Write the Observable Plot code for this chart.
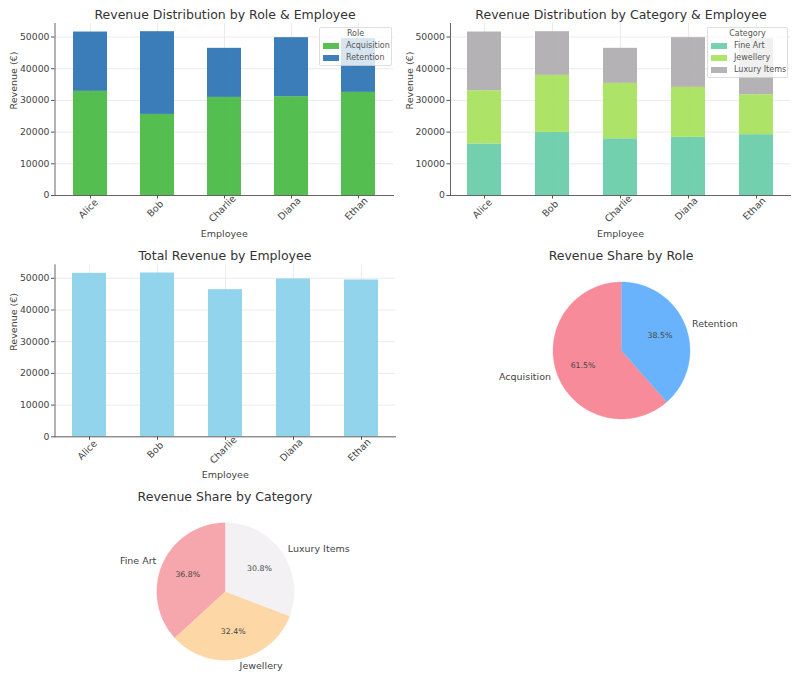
<!DOCTYPE html>
<html><head><meta charset="utf-8">
<script src="https://cdn.jsdelivr.net/npm/d3@7"></script>
<script src="https://cdn.jsdelivr.net/npm/@observablehq/plot@0.6"></script>
<style>
body{margin:0;background:#fff;font-family:"DejaVu Sans",sans-serif;}
#root{position:relative;width:800px;height:686px;overflow:hidden;background:#fff;}
.panel{position:absolute;}
.panel svg{overflow:visible;max-width:none !important;display:block;}
.title{position:absolute;font-size:12.5px;line-height:15px;color:#333;white-space:nowrap;transform:translateX(-50%);}
.legend{position:absolute;box-sizing:border-box;background:rgba(255,255,255,0.8);border:1px solid rgba(0,0,0,0.13);border-radius:2px;font-size:8px;line-height:12px;color:#555;padding:0 3px 1px 3px;}
.legend .lt{text-align:center;}
.legend .row{display:flex;align-items:center;white-space:nowrap;}
.legend .sw{width:16px;height:5.5px;margin-right:7px;flex:none;}
</style></head><body><div id="root"></div>
<script>
// ---------- data ----------
const employees = ["Alice", "Bob", "Charlie", "Diana", "Ethan"];
const roles = ["Acquisition", "Retention"];
const acquisition = [32850, 25580, 30950, 31170, 32530];
const retention = [18720, 26100, 15480, 18620, 16945];
const categories = ["Fine Art", "Jewellery", "Luxury Items"];
const fineArt = [16250, 19900, 17900, 18350, 19200];
const jewellery = [16800, 17990, 17470, 15760, 12590];
const luxuryItems = [18520, 13790, 11060, 15680, 17685];
const yTicks = [0, 10000, 20000, 30000, 40000, 50000];

const roleColors = ["#45ba41", "#2a72b2"];
const categoryColors = ["#66cca8", "#a6e25a", "#aeabae"];
const totalColor = "#8ad0eb";
const rolePieColors = ["#f78b99", "#69b3fc"];
const categoryPieColors = ["#f5a7ad", "#fdd7a5", "#f3f1f4"];

// ---------- derived ----------
const totals = employees.map((_, i) => acquisition[i] + retention[i]);
const yMax = d3.max(totals) * 1.05;
function stackRows(names, seriesValues) {
  const rows = [];
  employees.forEach((e, i) => names.forEach((s, j) => rows.push({employee: e, key: s, value: seriesValues[j][i]})));
  return rows;
}
const roleRows = stackRows(roles, [acquisition, retention]);
const catRows = stackRows(categories, [fineArt, jewellery, luxuryItems]);
const totalRows = employees.map((e, i) => ({employee: e, key: "Total", value: totals[i]}));

const root = document.getElementById("root");
const FONT = '"DejaVu Sans", sans-serif';

function place(node, left, top, w, h) {
  const d = document.createElement("div");
  d.className = "panel"; d.style.left = left + "px"; d.style.top = top + "px";
  d.style.width = w + "px"; d.style.height = h + "px";
  d.appendChild(node); root.appendChild(d);
}
function title(text, cx, cy) {
  const d = document.createElement("div");
  d.className = "title"; d.textContent = text;
  d.style.left = cx + "px"; d.style.top = (cy - 7.5) + "px";
  root.appendChild(d);
}
function legend(t, names, colors, left, top, width) {
  const d = document.createElement("div");
  d.className = "legend"; d.style.left = left + "px"; d.style.top = top + "px"; d.style.width = width + "px";
  const h = document.createElement("div"); h.className = "lt"; h.textContent = t; d.appendChild(h);
  names.forEach((n, i) => {
    const r = document.createElement("div"); r.className = "row";
    const sw = document.createElement("span"); sw.className = "sw"; sw.style.background = colors[i]; sw.style.opacity = 0.9;
    const tx = document.createElement("span"); tx.textContent = n;
    r.appendChild(sw); r.appendChild(tx); d.appendChild(r);
  });
  root.appendChild(d);
}

function barChart({rows, series, colors, marginLeft, marginRight, marginTop, marginBottom}) {
  return Plot.plot({
    width: 400, height: 245, marginTop, marginBottom, marginLeft, marginRight,
    style: {fontFamily: FONT, background: "transparent", overflow: "visible"},
    x: {domain: employees, paddingInner: 0.5, paddingOuter: 0.25, axis: null},
    y: {domain: [0, yMax], axis: null},
    color: {domain: series, range: colors},
    marks: [
      Plot.gridY(yTicks, {stroke: "#e6e6e6", strokeOpacity: 1, strokeWidth: 0.8}),
      Plot.gridX(employees, {stroke: "#e6e6e6", strokeOpacity: 1, strokeWidth: 0.8}),
      Plot.barY(rows, {x: "employee", y: "value", fill: "key", fillOpacity: 0.92}),
      Plot.frame({anchor: "left", stroke: "#555", strokeWidth: 0.9}),
      Plot.frame({anchor: "bottom", stroke: "#555", strokeWidth: 0.9}),
      Plot.axisY(yTicks, {tickSize: 3.5, tickPadding: 2, fontSize: 9.3, color: "#444", stroke: "#555", tickFormat: d3.format("d"), label: null}),
      Plot.axisX(employees, {tickSize: 3.5, tickFormat: () => "", label: null, stroke: "#555"}),
      Plot.text(employees, {x: d => d, frameAnchor: "bottom", dy: 15.5, rotate: -45, fontSize: 9.5, fill: "#444"}),
      Plot.text(["Employee"], {frameAnchor: "bottom", dy: 41, fontSize: 9.5, fill: "#444"}),
      Plot.text(["Revenue (€)"], {frameAnchor: "left", dx: -41, rotate: -90, fontSize: 9.5, fill: "#444"})
    ]
  });
}

function pieChart({names, values, colors, W, H, r}) {
  const total = d3.sum(values);
  let acc = 90; // start at top, counter-clockwise
  const slices = names.map((n, i) => {
    const a0 = acc, sweep = values[i] / total * 360; acc += sweep;
    return {name: n, a0, a1: acc, pct: values[i] / total * 100, color: colors[i]};
  });
  const rad = d => d * Math.PI / 180;
  const wedge = s => {
    const pts = [{x: 0, y: 0}];
    const n = Math.max(2, Math.ceil(s.a1 - s.a0));
    for (let k = 0; k <= n; k++) {
      const a = rad(s.a0 + (s.a1 - s.a0) * k / n);
      pts.push({x: Math.cos(a), y: Math.sin(a)});
    }
    pts.push({x: 0, y: 0});
    return pts;
  };
  const mid = s => rad((s.a0 + s.a1) / 2);
  const labels = slices.map(s => ({name: s.name, x: 1.1 * Math.cos(mid(s)), y: 1.1 * Math.sin(mid(s))}));
  const pcts = slices.map(s => ({text: s.pct.toFixed(1) + "%", x: 0.6 * Math.cos(mid(s)), y: 0.6 * Math.sin(mid(s))}));
  return Plot.plot({
    width: W, height: H, margin: 0,
    style: {fontFamily: FONT, background: "transparent", overflow: "visible"},
    x: {domain: [-W / 2 / r, W / 2 / r], axis: null},
    y: {domain: [-H / 2 / r, H / 2 / r], axis: null},
    marks: [
      ...slices.map(s => Plot.line(wedge(s), {x: "x", y: "y", fill: s.color, stroke: s.color, strokeWidth: 0.3})),
      Plot.text(labels.filter(d => d.x >= 0), {x: "x", y: "y", text: "name", textAnchor: "start", fontSize: 9.5, fill: "#444"}),
      Plot.text(labels.filter(d => d.x < 0), {x: "x", y: "y", text: "name", textAnchor: "end", fontSize: 9.5, fill: "#444"}),
      Plot.text(pcts, {x: "x", y: "y", text: "text", fontSize: 7.8, fill: "#444"})
    ]
  });
}

// Panel 1
place(barChart({rows: roleRows, series: roles, colors: roleColors, marginLeft: 54.5, marginRight: 7, marginTop: 23, marginBottom: 50}), 0, 0, 400, 245);
title("Revenue Distribution by Role & Employee", 225, 14);
legend("Role", roles, roleColors, 319, 27, 73);

// Panel 2
place(barChart({rows: catRows, series: categories, colors: categoryColors, marginLeft: 50, marginRight: 10, marginTop: 23, marginBottom: 50}), 400, 0, 400, 245);
title("Revenue Distribution by Category & Employee", 621, 14);
legend("Category", categories, categoryColors, 707, 27, 81);

// Panel 3
place(barChart({rows: totalRows, series: ["Total"], colors: [totalColor], marginLeft: 54.5, marginRight: 5, marginTop: 24.3, marginBottom: 48.7}), 0, 240, 400, 245);
title("Total Revenue by Employee", 225, 255);

// Panel 4 pie
const roleTotals = [d3.sum(acquisition), d3.sum(retention)];
place(pieChart({names: roles, values: roleTotals, colors: rolePieColors, W: 400, H: 180, r: 68.5}), 621 - 200, 350 - 90, 400, 180);
title("Revenue Share by Role", 621, 255);

// Panel 5 pie
const catTotals = [d3.sum(fineArt), d3.sum(jewellery), d3.sum(luxuryItems)];
place(pieChart({names: categories, values: catTotals, colors: categoryPieColors, W: 400, H: 180, r: 68.7}), 225 - 200, 591 - 90, 400, 180);
title("Revenue Share by Category", 225, 496);
</script>
</body></html>
